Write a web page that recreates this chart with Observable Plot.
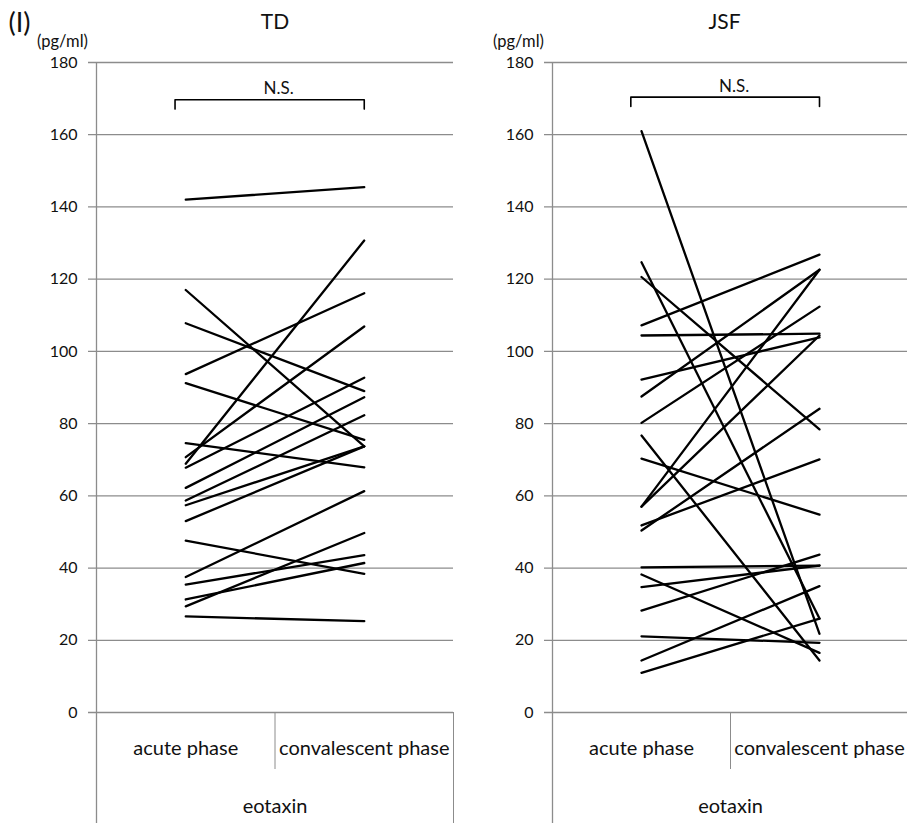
<!DOCTYPE html>
<html>
<head>
<meta charset="utf-8">
<script src="https://cdn.jsdelivr.net/npm/d3@7"></script>
<script src="https://cdn.jsdelivr.net/npm/@observablehq/plot@0.6"></script>
<style>
  html, body { margin: 0; padding: 0; background: #fff; overflow: hidden; }
  #figure { position: relative; width: 907px; height: 823px; font-family: Lato, "Open Sans", sans-serif; }
  .panel { position: absolute; top: 0; }
  .panel svg { max-width: none; overflow: visible; }
</style>
</head>
<body>
<div id="figure"></div>
<script>
// Eotaxin (pg/ml) per patient, acute vs convalescent phase
const categories = ["acute phase", "convalescent phase"];
const analyte = "eotaxin";
const unit = "(pg/ml)";
const yTicks = [0, 20, 40, 60, 80, 100, 120, 140, 160, 180];
const significance = "N.S.";

// TD group
const tdAcute = [142.0, 117.0, 107.8, 93.7, 91.2, 74.6, 70.7, 68.9, 67.8, 62.2, 58.7, 57.4, 53.0, 47.6, 37.5, 35.4, 31.3, 29.4, 26.6];
const tdConv  = [145.5, 73.7, 89.0, 116.1, 75.5, 67.9, 106.9, 130.7, 92.7, 87.3, 82.3, 73.7, 73.7, 38.4, 61.3, 43.6, 41.4, 49.7, 25.3];

// JSF group
const jsfAcute = [161.0, 124.7, 120.6, 107.2, 104.4, 92.2, 87.5, 80.2, 76.7, 70.3, 57.0, 57.0, 51.8, 50.4, 40.2, 38.2, 34.7, 28.2, 21.1, 14.4, 11.0];
const jsfConv  = [21.8, 26.0, 78.4, 126.8, 104.9, 103.9, 122.6, 112.4, 14.4, 54.8, 122.6, 104.4, 70.1, 84.1, 40.7, 16.5, 40.7, 43.7, 19.3, 35.0, 26.0];

// significance bracket level (pg/ml)
const tdBracketLevel = 169.7;
const jsfBracketLevel = 170.4;

const gray = "#8c8c8c";
const ink = "#111";
const H = 823, M_TOP = 62, M_BOTTOM = 111;
const unitsPerPx = 180 / (H - M_TOP - M_BOTTOM);

// each category sits at the centre of its half of the frame
const pos = (i) => i + 0.5;

function panel({title, acute, conv, bracketLevel, left, width, marginLeft, marginRight, label, titleDx}) {
  const rows = [];
  acute.forEach((v, i) => {
    rows.push({subject: i, x: pos(0), value: v});
    rows.push({subject: i, x: pos(1), value: conv[i]});
  });
  const xUnitsPerPx = 2 / (width - marginLeft - marginRight);
  const tickLen = 8 * xUnitsPerPx;                  // outside tick marks
  const yBottom = -M_BOTTOM * unitsPerPx;           // bottom edge of the drawing
  const yDivider = -57 * unitsPerPx;                // category separator length
  const tip = 2.6;                                   // bracket end drop
  const bx1 = pos(0) - 0.06, bx2 = pos(1);
  const bracket = [[bx1, bracketLevel - tip], [bx1, bracketLevel], [bx2, bracketLevel], [bx2, bracketLevel - tip]];

  const marks = [
    // gridlines continue past the axis as the tick marks
    Plot.ruleY(yTicks, {x1: -tickLen, x2: 2, stroke: gray, strokeWidth: 1.3}),
    Plot.text(yTicks, {x: 0, y: (d) => d, dx: -19, textAnchor: "end", fontSize: 16, fill: ink}),
    Plot.ruleX([0], {y1: 180, y2: yBottom, stroke: gray, strokeWidth: 1.3}),
    Plot.ruleX([1], {y1: 0, y2: yDivider, stroke: gray, strokeWidth: 1}),
    Plot.ruleX([2], {y1: 0, y2: yBottom, stroke: gray, strokeWidth: 1}),
    Plot.line(rows, {x: "x", y: "value", z: "subject", stroke: "#000", strokeWidth: 2.3}),
    Plot.line(bracket, {x: (d) => d[0], y: (d) => d[1], stroke: "#000", strokeWidth: 1.6}),
    Plot.text([significance], {x: (bx1 + bx2) / 2, y: bracketLevel, dx: 9, dy: -11, fontSize: 17, fill: ink}),
    Plot.text(categories, {x: (d, i) => pos(i), y: 0, dy: 36, fontSize: 20, fill: ink}),
    Plot.text([analyte], {x: 1, y: 0, dy: 94, fontSize: 20, fill: ink}),
    Plot.text([title], {frameAnchor: "top", textAnchor: "middle", lineAnchor: "middle", dx: titleDx, dy: -40.5, fontSize: 21, fill: ink}),
    Plot.text([unit], {frameAnchor: "top-left", textAnchor: "middle", lineAnchor: "middle", dx: -34, dy: -21, fontSize: 16.5, fill: ink})
  ];
  if (label) marks.push(Plot.text([label], {frameAnchor: "top-left", textAnchor: "middle", lineAnchor: "middle", dx: -77, dy: -39, fontSize: 27, fill: ink}));

  const chart = Plot.plot({
    width, height: H,
    marginLeft, marginRight, marginTop: M_TOP, marginBottom: M_BOTTOM,
    style: {fontFamily: "Lato, 'Open Sans', sans-serif", background: "transparent", overflow: "visible"},
    x: {domain: [0, 2], axis: null},
    y: {domain: [0, 180], axis: null},
    marks
  });
  const div = document.createElement("div");
  div.className = "panel";
  div.style.left = left + "px";
  div.appendChild(chart);
  document.getElementById("figure").appendChild(div);
}

panel({title: "TD", acute: tdAcute, conv: tdConv, bracketLevel: tdBracketLevel,
       left: 0, width: 460, marginLeft: 96, marginRight: 7, label: "(I)", titleDx: 0});
panel({title: "JSF", acute: jsfAcute, conv: jsfConv, bracketLevel: jsfBracketLevel,
       left: 460, width: 448, marginLeft: 92, marginRight: 0, label: null, titleDx: -6});
</script>
</body>
</html>
